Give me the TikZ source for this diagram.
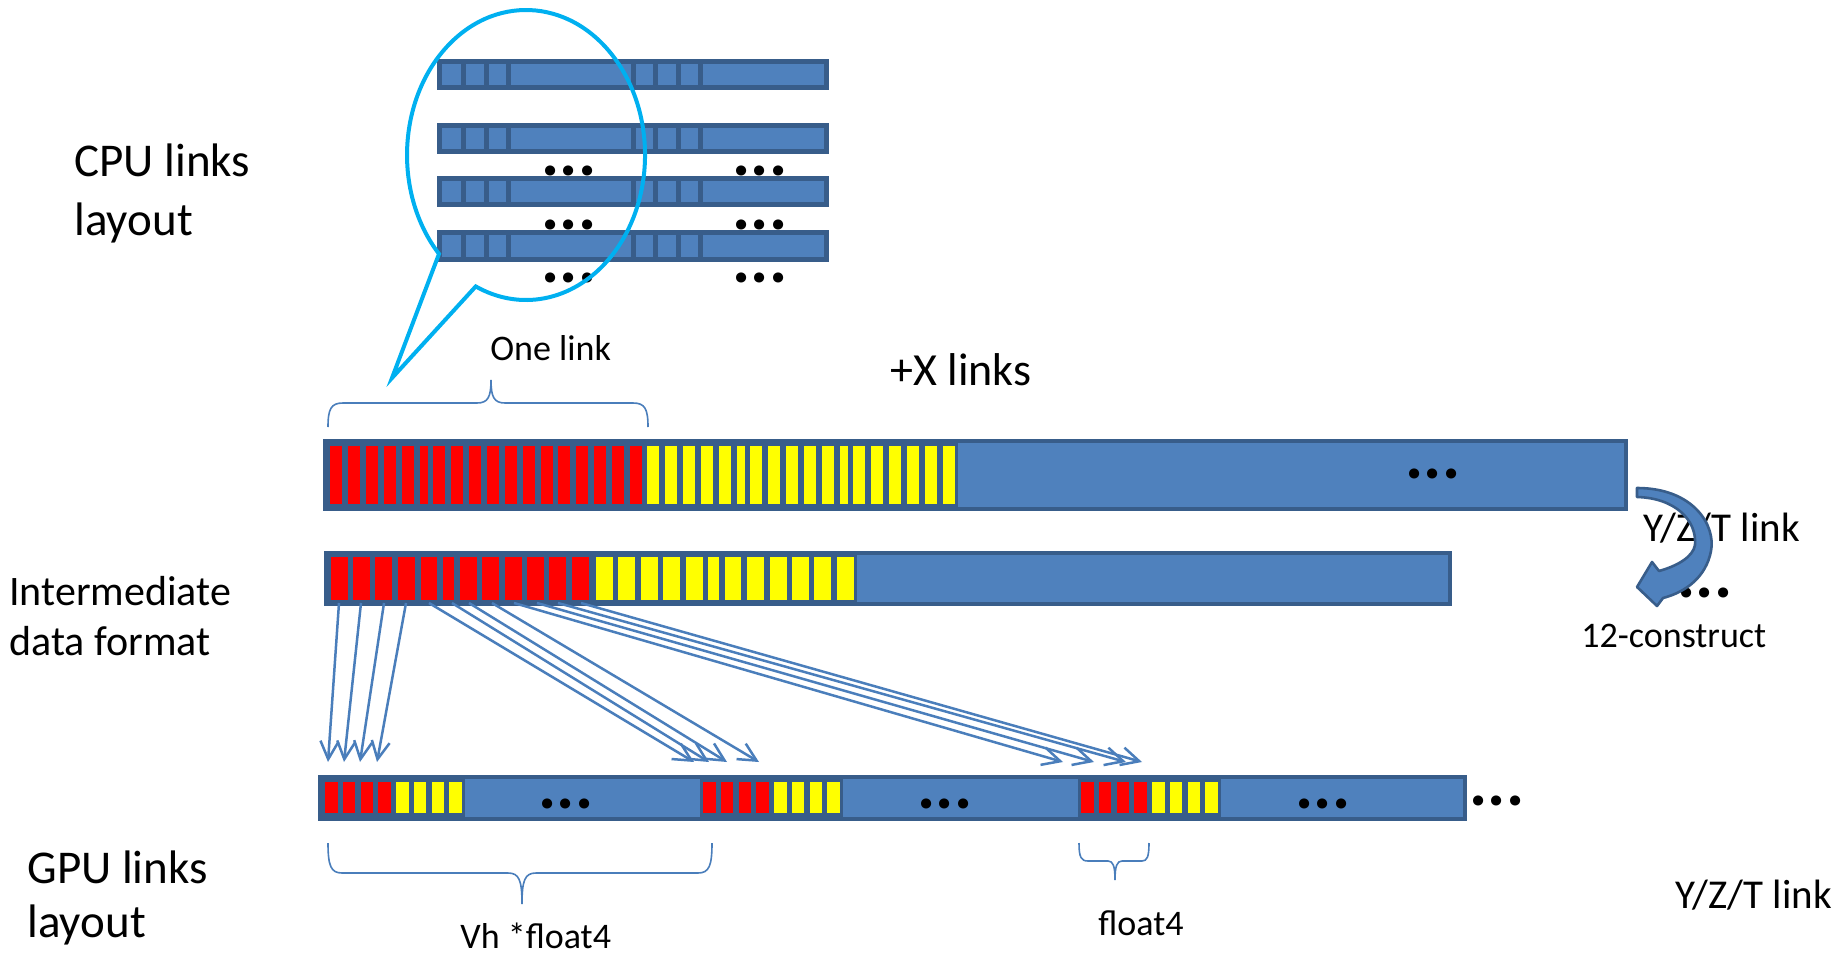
\documentclass[tikz,border=0pt]{standalone}
\usepackage{fontspec}
\setmainfont{Carlito}
\usetikzlibrary{arrows.meta}
\definecolor{barfill}{RGB}{79,129,189}
\definecolor{barline}{RGB}{56,93,138}
\definecolor{cellred}{RGB}{255,0,0}
\definecolor{cellyel}{RGB}{255,255,0}
\definecolor{callout}{RGB}{0,176,240}
\definecolor{wire}{RGB}{74,126,187}
\tikzset{
  bar/.style={fill=barfill, draw=barline, line width=2pt},
  seg/.style={fill=barfill, draw=barline, line width=2.5pt},
  map/.style={draw=wire, line width=1.25pt, -{Straight Barb[length=9pt,width=9pt]}},
  brace/.style={draw=wire, line width=0.8pt},
  lbl/.style={inner sep=0pt, anchor=base west},
  big/.style={font=\fontsize{23.5}{28}\selectfont},
  mid/.style={font=\fontsize{21}{25}\selectfont},
  yzt/.style={font=\fontsize{20.5}{24}\selectfont},
  small/.style={font=\fontsize{18}{22}\selectfont},
  dots/.style={inner sep=0pt, anchor=base, text height=5pt, text depth=0pt,
               font=\fontsize{34}{34}\selectfont\bfseries},
}
\begin{document}
\begin{tikzpicture}[x=0.5pt, y=-0.5pt]
\useasboundingbox (0,0) rectangle (1845,957);

% ---- CPU links layout: four rows of link records ----
\foreach \y in {62,126,179,233} {
  \foreach \a/\b in {439/463,463/486,486/508,508/633,633/655,655/678,678/700,700/826}
    \draw[seg] (\a,\y) rectangle (\b,\y+26);
}
\foreach \y [count=\k] in {171,224,277} {
  \node[dots] (cl\k) at (569,\y+5) {...};
  \node[dots] (cr\k) at (760,\y+5) {...};
}
% speech-bubble callout
\draw[callout, line width=2pt] (439,253.9)
  arc[start angle=137, end angle=475, x radius=119, y radius=145]
  -- (392,378) -- cycle;

% ---- labels on the left ----
\node[lbl, big] (cpuA) at (74,177) {CPU links};
\node[lbl, big] (cpuB) at (74,235) {layout};
\node[lbl, mid] (midA) at (9,605) {Intermediate};
\node[lbl, mid] (midB) at (9,655) {data format};
\node[lbl, big] (gpuA) at (27,883) {GPU links};
\node[lbl, big] (gpuB) at (27,937) {layout};

% ---- one link brace ----
\draw[brace] (328,427) .. controls (328,409) and (331,403) .. (343,403) -- (477,403)
  .. controls (488,403) and (491,397) .. (491,380)
  .. controls (491,397) and (494,403) .. (505,403) -- (633,403)
  .. controls (645,403) and (648,409) .. (648,427);
\node[lbl, small] (onelink) at (490,360) {One link};
\node[lbl, font=\fontsize{23}{28}\selectfont] (xlinks) at (890,385) {+X links};

% ---- +X links bar ----
\draw[bar] (325,441) rectangle (1626,509);
\fill[barline] (327,443) rectangle (958,507);
\foreach \x/\w in {330/12,348/12,366/12,384/12,401.5/12,419.5/8,433/12,451/12,469/12,
                   487/12,505/12,523/12,540.5/12,558/12,576/12,594/12,612/12,629.5/12}
  \fill[cellred] (\x,446) rectangle ++(\w,58);
\foreach \x/\w in {646.5/12,665/12,683/12,700.5/12,718.5/12,736.5/8,749.5/12,767.5/12,785.5/12,
                   803.5/12,821.5/12,839.5/8,853/12,870.5/12,888.5/12,907/12,924.5/12,943/12}
  \fill[cellyel] (\x,446) rectangle ++(\w,58);
\node[dots] (xdots) at (1433,478) {...};

% ---- intermediate data format bar ----
\draw[bar] (326,553) rectangle (1450,604);
\fill[barline] (328,555) rectangle (857,602);
\foreach \x/\w in {330.6/17,352.7/17.4,375.2/17,397.8/17,420.7/16.6,442.5/11.8,
                   459.5/17.4,482/17,504.5/17,526.7/17.4,549.2/17,571.8/17}
  \fill[cellred] (\x,557) rectangle ++(\w,43);
\foreach \x/\w in {595.5/17,618/17,640.6/17.4,663.1/17,685.6/17,708.2/11,
                   724.8/16.2,747.4/17,769.5/17,791.6/17.4,814.2/17,836.7/17}
  \fill[cellyel] (\x,557) rectangle ++(\w,43);

% ---- GPU links layout bar ----
\draw[bar] (320,777) rectangle (1465,819);
\foreach \s in {325,703,1081} {
  \fill[barline] (\s-3,779) rectangle (\s+140,817);
  \foreach \i in {0,...,3} \fill[cellred] (\s+17.75*\i,782) rectangle ++(12.5,31);
  \foreach \i in {4,...,7} \fill[cellyel] (\s+17.75*\i,782) rectangle ++(12.5,31);
}
\node[dots] (gd1) at (566,808) {...};
\node[dots] (gd2) at (945,808) {...};
\node[dots] (gd3) at (1323,808) {...};
\node[dots] (gd4) at (1497,805) {...};

% ---- mapping arrows: intermediate cells to GPU float4 slots ----
\foreach \n/\x in {1/339,2/361,3/384,4/406,5/429,6/452,7/469,8/492,9/514,10/537,11/558,12/581}
  \coordinate (m\n) at (\x,603);
\foreach \n/\x in {1/328,2/344,3/360,4/377,5/694,6/709,7/727,8/759,9/1063,10/1094,11/1126,12/1142}
  \coordinate (g\n) at (\x,762);
\foreach \n in {1,...,12}
  \draw[map] (m\n) -- (g\n);

% ---- GPU braces ----
\draw[brace] (328,843) .. controls (328,866) and (331,873) .. (342,873) -- (508,873)
  .. controls (519,873) and (522,880) .. (522,904)
  .. controls (522,880) and (525,873) .. (536,873) -- (698,873)
  .. controls (709,873) and (712,866) .. (712,843);
\draw[brace] (1079,843) .. controls (1079,857) and (1081,861) .. (1088,861) -- (1108,861)
  .. controls (1113,861) and (1115,866) .. (1115,880)
  .. controls (1115,866) and (1117,861) .. (1122,861) -- (1142,861)
  .. controls (1147,861) and (1149,857) .. (1149,843);
\node[lbl, small] (vh) at (460,948) {Vh *float4};
\node[lbl, small] (f4) at (1098,935) {float4};
\node[lbl, yzt] (yztB) at (1675,908) {Y/Z/T link};

% ---- Y/Z/T link turn-around ----
\node[lbl, yzt] (yztA) at (1643,541) {Y/Z/T link};
\node[dots] (tdots) at (1705,597) {...};
\node[lbl, small] (construct) at (1581,647) {12-construct};
\draw[fill=barfill, draw=barline, line width=1.3pt, line join=round]
  (1637,488) .. controls (1693,488) and (1716,525) .. (1711,551)
  .. controls (1706,577) and (1686,592) .. (1663,598)
  -- (1657,606) -- (1637,587) -- (1652,562) -- (1659,571)
  .. controls (1677,566) and (1693,557) .. (1695,545)
  .. controls (1697,520) and (1675,498) .. (1637,497) -- cycle;
\end{tikzpicture}
\end{document}
